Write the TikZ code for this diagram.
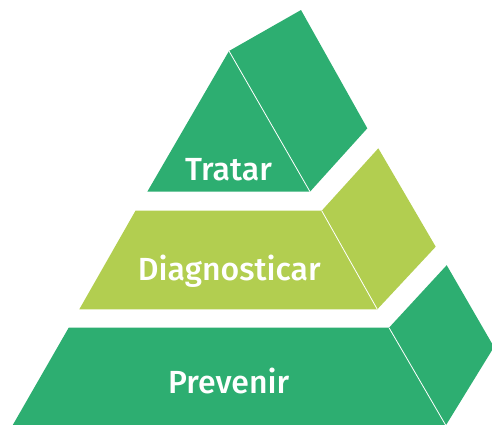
\documentclass[tikz,border=0pt]{standalone}
\usepackage{fontspec}
\setmainfont{Fira Sans}[BoldFont={Fira Sans Medium}]
\usetikzlibrary{positioning}
\definecolor{leafgreen}{RGB}{45,174,113}
\definecolor{limegreen}{RGB}{178,206,80}

\begin{document}
\begin{tikzpicture}[x=1pt, y=-1pt,
    crease/.style={white, line width=0.8pt},
    tier/.style={font=\fontsize{32}{36}\selectfont\bfseries, text=white, anchor=base, inner sep=0pt}]
  \useasboundingbox (0,0) rectangle (492,424);
  \clip (0,0) rectangle (492,424);

  % top tier
  \fill[leafgreen] (229,51) -- (147.3,191.7) -- (310,191.7) -- cycle;
  \fill[leafgreen] (229,51) -- (301,10) -- (367.3,128.3) -- (310,191.7) -- cycle;
  \draw[crease] (229,51) -- (310,191.7);
  \node[tier] (tratar) at (228.5,180) {Tratar};

  % middle tier
  \fill[limegreen] (135.5,210.7) -- (321.7,210.7) -- (377.3,309.3) -- (79.3,309.3) -- cycle;
  \fill[limegreen] (321.7,210.7) -- (378.3,148.3) -- (435.7,246.7) -- (377.3,309.3) -- cycle;
  \draw[crease] (321.7,210.7) -- (377.3,309.3);
  \node[tier] (diagnosticar) at (229.3,280) {Diagnosticar};

  % bottom tier
  \fill[leafgreen] (68.7,327.7) -- (389,327.7) -- (448.5,430) -- (9.9,430) -- cycle;
  \fill[leafgreen] (389,327.7) -- (446.7,265.2) -- (494,347) -- (443,430) -- (448.5,430) -- cycle;
  \draw[crease] (389,327.7) -- (448.5,430);
  \node[tier] (prevenir) at (228.7,393.3) {Prevenir};
\end{tikzpicture}
\end{document}
